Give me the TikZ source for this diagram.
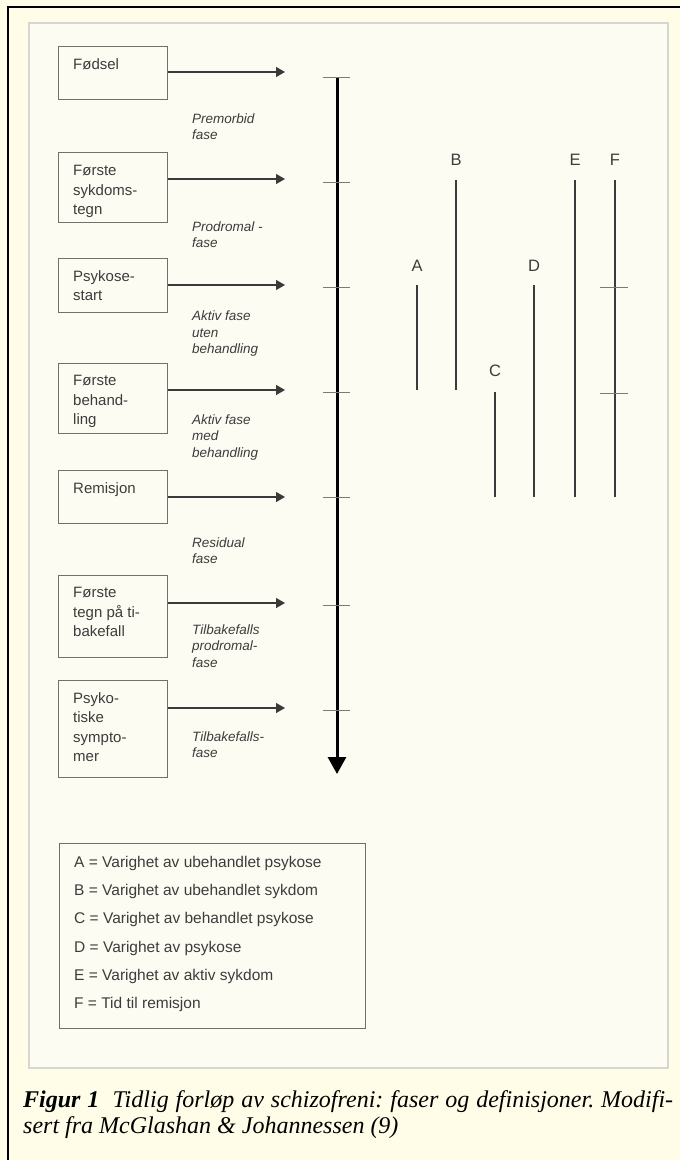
\documentclass[tikz,border=0pt]{standalone}
\usepackage{fontspec}
\setmainfont{Liberation Serif}
\setsansfont{Liberation Sans}
\usetikzlibrary{arrows.meta}
\definecolor{outerbg}{HTML}{FFFDE8}
\definecolor{panelbg}{HTML}{FDFCF3}
\definecolor{panelline}{HTML}{D6D6CE}
\definecolor{boxline}{HTML}{707070}
\definecolor{txt}{HTML}{3C3C3C}
\definecolor{barc}{HTML}{3A3A3A}
\definecolor{tickc}{HTML}{7A7A7A}
\tikzset{
  evtbox/.style={draw=boxline, line width=1.2pt, minimum width=109pt, inner sep=0pt, anchor=north west},
  boxtxt/.style={anchor=north west, inner sep=0pt, align=left, text=txt, font=\sffamily\fontsize{15}{19.5}\selectfont},
  phase/.style={anchor=north west, inner sep=0pt, align=left, text=txt, font=\sffamily\itshape\fontsize{13.5}{16.5}\selectfont},
  evtarrow/.style={draw=barc, line width=1.3pt, -{Triangle[length=9pt,width=10pt]}},
  axisline/.style={draw=black, line width=3pt, -{Triangle[length=17pt,width=18pt]}},
  tickline/.style={draw=tickc, line width=0.9pt},
  durbar/.style={draw=barc, line width=2.4pt},
  letter/.style={inner sep=0pt, text=txt, font=\sffamily\fontsize{16.5}{16.5}\selectfont},
  legendtxt/.style={anchor=north west, inner sep=0pt, align=left, text=txt, font=\sffamily\fontsize{15.5}{28.2}\selectfont},
  captxt/.style={anchor=north west, inner sep=0pt, text width=650pt, align=justify, text=black, font=\rmfamily\itshape\fontsize{24}{26}\selectfont\frenchspacing}
}
\begin{document}
\begin{tikzpicture}[x=1pt,y=-1pt]
\useasboundingbox (0,0) rectangle (680,1160);
% backgrounds
\fill[outerbg] (0,0) rectangle (680,1160);
\draw[black, line width=2.5pt] (8,1160) -- (8,7) -- (680,7);
\draw[panelline, fill=panelbg, line width=1.5pt] (29,23) rectangle (668,1068);

% event boxes
\node[evtbox, minimum height=53pt] (b1) at (58,46) {};
\node[evtbox, minimum height=70pt] (b2) at (58,152) {};
\node[evtbox, minimum height=54pt] (b3) at (58,258) {};
\node[evtbox, minimum height=70pt] (b4) at (58,363) {};
\node[evtbox, minimum height=53pt] (b5) at (58,470) {};
\node[evtbox, minimum height=82pt] (b6) at (58,575) {};
\node[evtbox, minimum height=97pt] (b7) at (58,680) {};

\node[boxtxt] (t1) at ([xshift=15pt,yshift=-12pt]b1.north west) {Fødsel};
\node[boxtxt] (t2) at ([xshift=15pt,yshift=-13pt]b2.north west) {Første\\sykdoms-\\tegn};
\node[boxtxt] (t3) at ([xshift=15pt,yshift=-12pt]b3.north west) {Psykose-\\start};
\node[boxtxt] (t4) at ([xshift=15pt,yshift=-12pt]b4.north west) {Første\\behand-\\ling};
\node[boxtxt] (t5) at ([xshift=15pt,yshift=-12pt]b5.north west) {Remisjon};
\node[boxtxt] (t6) at ([xshift=15pt,yshift=-12pt]b6.north west) {Første\\tegn på ti-\\bakefall};
\node[boxtxt] (t7) at ([xshift=15pt,yshift=-12pt]b7.north west) {Psyko-\\tiske\\sympto-\\mer};

% arrow targets
\coordinate (p1) at (285,72);
\coordinate (p2) at (285,179);
\coordinate (p3) at (285,285);
\coordinate (p4) at (285,390);
\coordinate (p5) at (285,497);
\coordinate (p6) at (285,603);
\coordinate (p7) at (285,708);
\draw[evtarrow] (b1.east |- p1) -- (p1);
\draw[evtarrow] (b2.east |- p2) -- (p2);
\draw[evtarrow] (b3.east |- p3) -- (p3);
\draw[evtarrow] (b4.east |- p4) -- (p4);
\draw[evtarrow] (b5.east |- p5) -- (p5);
\draw[evtarrow] (b6.east |- p6) -- (p6);
\draw[evtarrow] (b7.east |- p7) -- (p7);

% phase labels
\node[phase] (f1) at (192,113.5) {Premorbid\\fase};
\node[phase] (f2) at (192,221.5) {Prodromal -\\fase};
\node[phase] (f3) at (192,311) {Aktiv fase\\uten\\behandling};
\node[phase] (f4) at (192,414.5) {Aktiv fase\\med\\behandling};
\node[phase] (f5) at (192,537.5) {Residual\\fase};
\node[phase] (f6) at (192,624.5) {Tilbakefalls\\prodromal-\\fase};
\node[phase] (f7) at (192,731.5) {Tilbakefalls-\\fase};

% time axis
\coordinate (ax0) at (337,77);
\coordinate (ax1) at (337,774);
\draw[axisline] (ax0) -- (ax1);
\foreach \yy in {77,182,287,392,497,605,710}{
  \draw[tickline] (323,\yy) -- (350,\yy);
}

% duration bars
\node[letter] (lA) at (417,266) {A};
\node[letter] (lB) at (456,160) {B};
\node[letter] (lC) at (495,371) {C};
\node[letter] (lD) at (534,266) {D};
\node[letter] (lE) at (575,160) {E};
\node[letter] (lF) at (615,160) {F};
\coordinate (eA) at (417,390);
\coordinate (eB) at (456,390);
\coordinate (eC) at (495,497);
\coordinate (eD) at (534,497);
\coordinate (eE) at (575,497);
\coordinate (eF) at (615,497);
\draw[durbar] (417,285) -- (eA);
\draw[durbar] (456,180) -- (eB);
\draw[durbar] (495,392) -- (eC);
\draw[durbar] (534,285) -- (eD);
\draw[durbar] (575,180) -- (eE);
\draw[durbar] (615,180) -- (eF);
\draw[tickline] (600,287) -- (628,287);
\draw[tickline] (600,393) -- (628,393);

% legend
\node[evtbox, draw=boxline, minimum width=306pt, minimum height=185pt] (leg) at (59,843) {};
\node[legendtxt] (legt) at (74,856) {A = Varighet av ubehandlet psykose\\B = Varighet av ubehandlet sykdom\\C = Varighet av behandlet psykose\\D = Varighet av psykose\\E = Varighet av aktiv sykdom\\F = Tid til remisjon};

% caption
\node[captxt] (cap) at (23,1090) {\textbf{Figur 1}\hspace{0.55em}Tidlig forløp av schizofreni: faser og definisjoner. Modifi-\linebreak sert fra McGlashan \& Johannessen (9)};
\end{tikzpicture}
\end{document}
